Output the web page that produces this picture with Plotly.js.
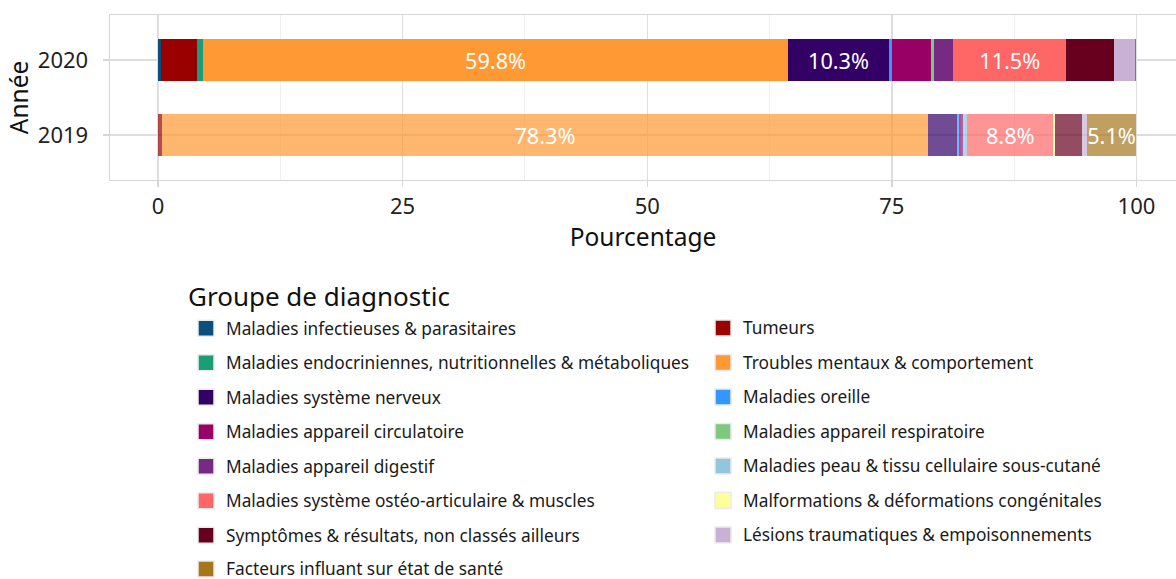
<!DOCTYPE html>
<html>
<head>
<meta charset="utf-8">
<script src="https://cdn.plot.ly/plotly-3.0.1.min.js"></script>
<style>html,body{margin:0;padding:0;background:#fff;}#chart{width:1176px;height:579px;}</style>
</head>
<body>
<div id="chart"></div>
<script>
const years = ["2020", "2019"];
const groups = [
  "Maladies infectieuses & parasitaires",
  "Tumeurs",
  "Maladies endocriniennes, nutritionnelles & métaboliques",
  "Troubles mentaux & comportement",
  "Maladies système nerveux",
  "Maladies oreille",
  "Maladies appareil circulatoire",
  "Maladies appareil respiratoire",
  "Maladies appareil digestif",
  "Maladies peau & tissu cellulaire sous-cutané",
  "Maladies système ostéo-articulaire & muscles",
  "Malformations & déformations congénitales",
  "Symptômes & résultats, non classés ailleurs",
  "Lésions traumatiques & empoisonnements",
  "Facteurs influant sur état de santé"
];
const values2020 = [0.3, 3.7, 0.6, 59.8, 10.3, 0.3, 4.0, 0.3, 2.0, 0.0, 11.5, 0.0, 4.9, 2.1, 0.2];
const values2019 = [0.05, 0.35, 0.0, 78.3, 3.0, 0.2, 0.2, 0.0, 0.2, 0.4, 8.8, 0.2, 2.7, 0.5, 5.1];
const colors = ["#0b4f7c", "#990000", "#1b9e77", "#ff9933", "#330066", "#3399ff", "#990066", "#7fc97f",
                "#762a83", "#92c5de", "#ff6666", "#ffff99", "#67001f", "#c9b1d6", "#a6761d"];
const xTicks = [0, 25, 50, 75, 100];
const xAxisTitle = "Pourcentage";
const yAxisTitle = "Année";
const legendTitle = "Groupe de diagnostic";

const FONT = "Noto Sans, Open Sans, sans-serif";

const barTraces = groups.map((g, i) => {
  const vals = [values2020[i], values2019[i]];
  return {
    type: "bar",
    orientation: "h",
    name: g,
    showlegend: false,
    y: years,
    x: vals,
    width: 0.56,
    marker: {color: colors[i], opacity: [1, 0.7], line: {width: 0}},
    text: vals.map(v => v > 5 ? v.toFixed(1) + "%" : ""),
    textposition: "inside",
    insidetextanchor: "middle",
    textangle: 0,
    textfont: {family: FONT, size: 21.7, color: "#ffffff"},
    constraintext: "none",
    hoverinfo: "x+y"
  };
});

// legend entries: two columns, filled row by row (even index -> left, odd -> right);
// the last left-column entry sits in its own legend so the first one is not clipped
function legendFor(i) {
  if (i === groups.length - 1) return "legend3";
  return i % 2 === 0 ? "legend" : "legend2";
}
const legendTraces = groups.map((g, i) => ({
  type: "scatter",
  mode: "markers",
  x: [null], y: [null],
  name: ' <br> <br><span style="font-size:17.3px">' + g + '</span><br> ',
  legend: legendFor(i),
  marker: {symbol: "square", size: 16, color: colors[i], line: {color: "#ebebeb", width: 1.5}},
  showlegend: true,
  hoverinfo: "skip"
}));

const legendCommon = {
  orientation: "v",
  xanchor: "left", yanchor: "top",
  traceorder: "normal",
  font: {family: FONT, size: 6.06, color: "#1a1a1a"},
  bgcolor: "rgba(0,0,0,0)",
  itemclick: false, itemdoubleclick: false
};

const layout = {
  width: 1176, height: 579,
  margin: {l: 110, r: 0, t: 15, b: 399, pad: 0},
  paper_bgcolor: "#ffffff", plot_bgcolor: "#ffffff",
  font: {family: FONT, color: "#1a1a1a"},
  barmode: "stack",
  showlegend: true,
  xaxis: {
    range: [-4.905, 104.04],
    tickvals: xTicks,
    ticktext: xTicks.map(String),
    showgrid: true, gridcolor: "#dedede", gridwidth: 1.4,
    minor: {dtick: 12.5, tick0: 0, showgrid: true, gridcolor: "#f0f0f0", gridwidth: 1, ticks: ""},
    zeroline: false,
    showline: true, mirror: true, linecolor: "#d6d6d6", linewidth: 1.4,
    ticks: "outside", ticklen: 6, tickwidth: 1.4, tickcolor: "#d6d6d6",
    tickfont: {size: 22, color: "#222"},
    title: {text: xAxisTitle, font: {size: 24.5, color: "#111"}, standoff: 1},
    fixedrange: true
  },
  yaxis: {
    type: "category",
    categoryorder: "array", categoryarray: ["2019", "2020"],
    range: [-0.6, 1.6],
    showgrid: true, gridcolor: "#dedede", gridwidth: 1.4,
    zeroline: false,
    showline: true, linecolor: "#d6d6d6", linewidth: 1.4,
    ticks: "outside", ticklen: 6, tickwidth: 1.4, tickcolor: "#d6d6d6",
    tickfont: {size: 22, color: "#222"},
    ticklabelstandoff: 10,
    title: {text: yAxisTitle, font: {size: 24.5, color: "#111"}, standoff: 2},
    fixedrange: true
  },
  legend: Object.assign({}, legendCommon, {
    x: 0.0713, y: -0.559,
    title: {text: legendTitle, side: "top", font: {size: 26, color: "#111"}}
  }),
  legend2: Object.assign({}, legendCommon, {
    x: 0.5563, y: -0.762
  }),
  legend3: Object.assign({}, legendCommon, {
    x: 0.0713, yref: "container", y: 0.0557
  })
};

Plotly.newPlot("chart", barTraces.concat(legendTraces), layout, {displayModeBar: false, staticPlot: true});
</script>
</body>
</html>
